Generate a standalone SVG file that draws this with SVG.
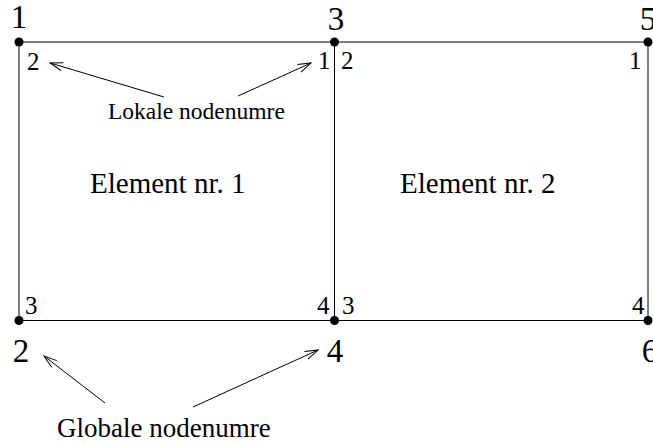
<svg xmlns="http://www.w3.org/2000/svg" width="653" height="446" viewBox="0 0 653 446">
<style>
.t{font-family:"Liberation Serif",serif;fill:#000}
.g{font-size:33px}
.l{font-size:25px}
.e{font-size:29px}
.ln{stroke:#000;stroke-width:1;fill:none}
</style>
<defs>
<marker id="ah" markerWidth="14" markerHeight="10" refX="13" refY="5" orient="auto" markerUnits="userSpaceOnUse">
<path d="M0,0.8 L13,5 L0,9.2" fill="none" stroke="#000" stroke-width="1"/>
</marker>
</defs>
<g id="element1">
<rect x="19" y="42" width="315.5" height="278.5" class="ln"/>
<text class="t e" x="90" y="193">Element nr. 1</text>
<text class="t l" x="27" y="70">2</text>
<text class="t l" x="318" y="69">1</text>
<text class="t l" x="25" y="314">3</text>
<text class="t l" x="317" y="314">4</text>
</g>
<g id="element2">
<rect x="334.5" y="42" width="313.5" height="278.5" class="ln"/>
<text class="t e" x="400" y="193">Element nr. 2</text>
<text class="t l" x="341" y="69">2</text>
<text class="t l" x="629" y="69">1</text>
<text class="t l" x="342" y="314">3</text>
<text class="t l" x="632" y="314">4</text>
</g>
<g id="node1"><circle cx="19" cy="42" r="4.5"/><text class="t g" x="19" y="28" text-anchor="middle">1</text></g>
<g id="node3"><circle cx="334.5" cy="42" r="4.5"/><text class="t g" x="336" y="30" text-anchor="middle">3</text></g>
<g id="node5"><circle cx="648" cy="42" r="4.5"/><text class="t g" x="648" y="30" text-anchor="middle">5</text></g>
<g id="node2"><circle cx="19" cy="320.5" r="4.5"/><text class="t g" x="21" y="362" text-anchor="middle">2</text></g>
<g id="node4"><circle cx="334.5" cy="320.5" r="4.5"/><text class="t g" x="335" y="362" text-anchor="middle">4</text></g>
<g id="node6"><circle cx="648" cy="320.5" r="4.5"/><text class="t g" x="650" y="362" text-anchor="middle">6</text></g>
<g id="labels">
<text class="t" style="font-size:23.5px" x="108" y="119">Lokale nodenumre</text>
<text class="t" style="font-size:27px" x="57" y="437">Globale nodenumre</text>
</g>
<g id="connectors">
<line class="ln" x1="164" y1="97" x2="50" y2="63" marker-end="url(#ah)"/>
<line class="ln" x1="238" y1="96" x2="311" y2="63" marker-end="url(#ah)"/>
<line class="ln" x1="105" y1="403" x2="44" y2="356" marker-end="url(#ah)"/>
<line class="ln" x1="193" y1="407" x2="318" y2="350" marker-end="url(#ah)"/>
</g>
</svg>
